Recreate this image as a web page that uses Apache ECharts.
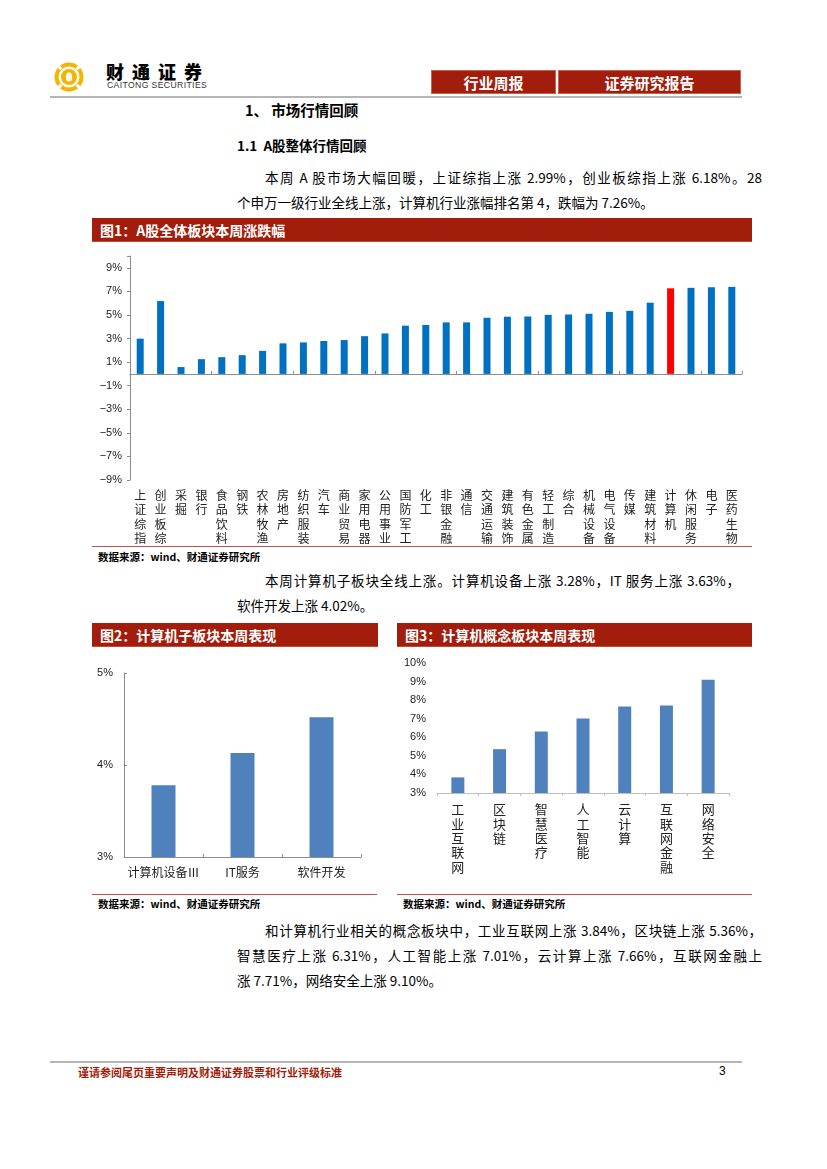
<!DOCTYPE html>
<html>
<head>
<meta charset="utf-8">
<script src="https://cdn.jsdelivr.net/npm/echarts@6/dist/echarts.min.js"></script>
<style>
  html, body { margin:0; padding:0; background:#fff; }
  #page { position:relative; width:827px; height:1169px; overflow:hidden; font-family:"Noto Sans CJK SC", sans-serif; color:#000; }
  .abs { position:absolute; white-space:nowrap; }
  .bar { position:absolute; background:#a21d0b; border-bottom:1px solid #c24a35; color:#fff; font-weight:bold; font-size:14px; line-height:24px; box-sizing:border-box; padding-left:8px; }
  .hbox { position:absolute; background:#a21d0b; color:#fff; font-weight:bold; font-size:15px; line-height:24px; text-align:center; border:1px solid #c9604c; box-sizing:border-box; }
  .p { position:absolute; font-size:13.5px; line-height:18px; white-space:nowrap; }
  .j { text-align:justify; text-align-last:justify; }
  .src { position:absolute; font-size:10.5px; font-weight:bold; line-height:14px; white-space:nowrap; }
  .rline { position:absolute; height:1px; background:#c0504d; }
</style>
</head>
<body>
<div id="page">
  <!-- logo -->
  <svg class="abs" style="left:53px;top:61px" width="32" height="32" viewBox="-16 -16 32 32">
    <circle r="14.5" fill="#f4b400"/>
    <g fill="#fff">
      <rect x="-1.6" y="-17" width="3.2" height="6" transform="rotate(45)"/>
      <rect x="-1.6" y="-17" width="3.2" height="6" transform="rotate(135)"/>
      <rect x="-1.6" y="-17" width="3.2" height="6" transform="rotate(225)"/>
      <rect x="-1.6" y="-17" width="3.2" height="6" transform="rotate(315)"/>
    </g>
    <circle r="10.5" fill="#fff"/>
    <circle r="8" fill="#f4b400"/>
    <ellipse rx="3.2" ry="4.6" fill="#fff"/>
  </svg>
  <div class="abs" style="left:106px;top:60px;font-size:18px;font-weight:900;letter-spacing:8px;line-height:22px;">财通证券</div>
  <div class="abs" style="left:107px;top:80px;font-family:'Liberation Sans',sans-serif;font-size:8.6px;letter-spacing:0.4px;line-height:10px;color:#333;">CAITONG SECURITIES</div>

  <div class="hbox" style="left:431px;top:70px;width:125px;height:24px;">行业周报</div>
  <div class="hbox" style="left:558px;top:70px;width:183px;height:24px;">证券研究报告</div>
  <div class="abs" style="left:50px;top:96px;width:692px;height:2px;background:#b5b5b5;"></div>

  <div class="abs" style="left:245px;top:101px;font-size:14.5px;font-weight:bold;line-height:18px;">1、 市场行情回顾</div>
  <div class="abs" style="left:237px;top:136px;font-size:13.5px;font-weight:bold;line-height:18px;">1.1&nbsp; A股整体行情回顾</div>

  <div class="p j" style="left:265px;top:168px;width:497px;">本周 A 股市场大幅回暖，上证综指上涨 2.99%，创业板综指上涨 6.18%。28</div>
  <div class="p" style="left:237px;top:193px;">个申万一级行业全线上涨，计算机行业涨幅排名第 4，跌幅为 7.26%。</div>

  <div class="bar" style="left:92px;top:218px;width:660px;height:24px;">图1：A股全体板块本周涨跌幅</div>
  <div id="c1" class="abs" style="left:92px;top:248px;width:660px;height:298px;"></div>
  <div class="rline" style="left:92px;top:546px;width:660px;"></div>
  <div class="src" style="left:98px;top:550px;">数据来源：wind、财通证券研究所</div>

  <div class="p j" style="left:265px;top:571px;width:475px;">本周计算机子板块全线上涨。计算机设备上涨 3.28%，IT 服务上涨 3.63%，</div>
  <div class="p" style="left:237px;top:596px;">软件开发上涨 4.02%。</div>

  <div class="bar" style="left:92px;top:623px;width:286px;height:24px;">图2：计算机子板块本周表现</div>
  <div class="bar" style="left:397px;top:623px;width:355px;height:24px;">图3：计算机概念板块本周表现</div>
  <div id="c2" class="abs" style="left:92px;top:650px;width:286px;height:240px;"></div>
  <div id="c3" class="abs" style="left:397px;top:650px;width:355px;height:240px;"></div>
  <div class="rline" style="left:92px;top:894px;width:285px;"></div>
  <div class="rline" style="left:397px;top:894px;width:355px;"></div>
  <div class="src" style="left:98px;top:897px;">数据来源：wind、财通证券研究所</div>
  <div class="src" style="left:403px;top:897px;">数据来源：wind、财通证券研究所</div>

  <div class="p j" style="left:265px;top:921px;width:497px;">和计算机行业相关的概念板块中，工业互联网上涨 3.84%，区块链上涨 5.36%，</div>
  <div class="p j" style="left:237px;top:946px;width:525px;">智慧医疗上涨 6.31%，人工智能上涨 7.01%，云计算上涨 7.66%，互联网金融上</div>
  <div class="p" style="left:237px;top:971px;">涨 7.71%，网络安全上涨 9.10%。</div>

  <div class="abs" style="left:50px;top:1061px;width:692px;height:2px;background:#b5b5b5;"></div>
  <div class="abs" style="left:78px;top:1065px;font-size:11px;font-weight:bold;color:#a21d0b;line-height:14px;">谨请参阅尾页重要声明及财通证券股票和行业评级标准</div>
  <div class="abs" style="left:719px;top:1064px;font-size:12px;font-family:'Liberation Sans',sans-serif;line-height:14px;">3</div>
</div>

<script>
// ---------- data ----------
const industryNames = ['上证综指','创业板综','采掘','银行','食品饮料','钢铁','农林牧渔','房地产','纺织服装','汽车','商业贸易','家用电器','公用事业','国防军工','化工','非银金融','通信','交通运输','建筑装饰','有色金属','轻工制造','综合','机械设备','电气设备','传媒','建筑材料','计算机','休闲服务','电子','医药生物'];
const industryChange = [2.99, 6.18, 0.58, 1.25, 1.42, 1.59, 1.95, 2.59, 2.67, 2.79, 2.87, 3.20, 3.43, 4.09, 4.15, 4.37, 4.37, 4.76, 4.85, 4.87, 5.01, 5.04, 5.10, 5.26, 5.35, 6.04, 7.26, 7.30, 7.35, 7.38];
const highlightName = '计算机';

const subNames = ['计算机设备Ⅲ', 'IT服务', '软件开发'];
const subChange = [3.78, 4.13, 4.52];

const conceptNames = ['工业互联网','区块链','智慧医疗','人工智能','云计算','互联网金融','网络安全'];
const conceptChange = [3.84, 5.36, 6.31, 7.01, 7.66, 7.71, 9.10];

// ---------- helpers ----------
const AXIS_GREY = '#8c8c8c';
const NUM_FONT = "'Liberation Sans', Arial, sans-serif";
const CJK_FONT = "'Noto Sans CJK SC', sans-serif";
const vertical = s => s.split('').join('\n');
const pct = v => (v < 0 ? '\u2212' + Math.abs(v) : v) + '%';

// ---------- chart 1 ----------
const c1 = echarts.init(document.getElementById('c1'));
c1.setOption({
  animation: false,
  grid: { left: 38, right: 10, top: 8, bottom: 62 },
  xAxis: [
    { type: 'category', data: industryNames,
      axisLine: { onZero: true, lineStyle: { color: AXIS_GREY, width: 1 } },
      axisTick: { show: true, inside: true, length: 3, lineStyle: { color: AXIS_GREY } },
      axisLabel: { show: false } },
    { type: 'category', data: industryNames, position: 'bottom',
      axisLine: { show: false, onZero: false }, axisTick: { show: false },
      axisLabel: { interval: 0, formatter: vertical, fontSize: 12, lineHeight: 14.5, margin: 8,
        color: '#222', fontFamily: CJK_FONT, verticalAlign: 'top' } }
  ],
  yAxis: { type: 'value', min: -9, max: 10, interval: 2,
    axisLine: { show: true, lineStyle: { color: AXIS_GREY } },
    axisTick: { show: true, length: 3, lineStyle: { color: AXIS_GREY } },
    splitLine: { show: false },
    axisLabel: { formatter: v => (v > 9 ? '' : pct(v)), fontSize: 11, color: '#222', fontFamily: NUM_FONT, margin: 8 } },
  series: [{ type: 'bar', xAxisIndex: 0, barWidth: 7,
    data: industryChange.map((v, i) => ({ value: v,
      itemStyle: { color: industryNames[i] === highlightName ? '#ff0000' : '#0070c0' } })) }]
});

// ---------- chart 2 ----------
const c2 = echarts.init(document.getElementById('c2'));
c2.setOption({
  animation: false,
  grid: { left: 32, right: 17, top: 23, bottom: 33 },
  xAxis: { type: 'category', data: subNames,
    axisLine: { lineStyle: { color: AXIS_GREY } },
    axisTick: { show: true, inside: true, length: 3, lineStyle: { color: AXIS_GREY } },
    axisLabel: { interval: 0, fontSize: 12, color: '#222', fontFamily: CJK_FONT, margin: 9 } },
  yAxis: { type: 'value', min: 3, max: 5, interval: 1,
    axisLine: { show: true, lineStyle: { color: AXIS_GREY } },
    axisTick: { show: true, inside: true, length: 3, lineStyle: { color: AXIS_GREY } },
    splitLine: { show: false },
    axisLabel: { formatter: pct, fontSize: 11, color: '#222', fontFamily: NUM_FONT, margin: 11 } },
  series: [{ type: 'bar', data: subChange, barWidth: 24, itemStyle: { color: '#4f81bd' } }]
});

// ---------- chart 3 ----------
const c3 = echarts.init(document.getElementById('c3'));
c3.setOption({
  animation: false,
  grid: { left: 40, right: 23, top: 13, bottom: 97 },
  xAxis: { type: 'category', data: conceptNames,
    axisLine: { lineStyle: { color: '#bfbfbf' } },
    axisTick: { show: true, length: 3, lineStyle: { color: '#bfbfbf' } },
    axisLabel: { interval: 0, formatter: vertical, fontSize: 13, lineHeight: 14.4, margin: 9,
      color: '#222', fontFamily: CJK_FONT, verticalAlign: 'top' } },
  yAxis: { type: 'value', min: 3, max: 10, interval: 1,
    axisLine: { show: false }, axisTick: { show: false }, splitLine: { show: false },
    axisLabel: { formatter: pct, fontSize: 11, color: '#222', fontFamily: NUM_FONT, margin: 11 } },
  series: [{ type: 'bar', data: conceptChange, barWidth: 13, itemStyle: { color: '#4f81bd' } }]
});
</script>
</body>
</html>
